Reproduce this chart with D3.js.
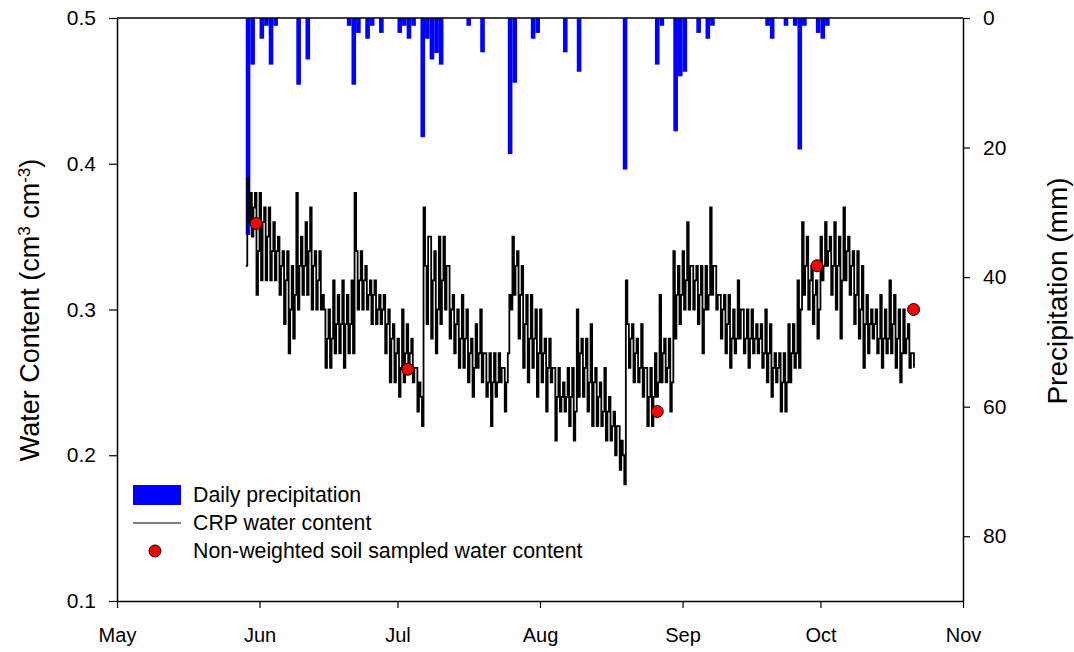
<!DOCTYPE html>
<html>
<head>
<meta charset="utf-8">
<script src="https://cdn.jsdelivr.net/npm/d3@7"></script>
<style>
  body { margin: 0; background: #fff; }
  svg { display: block; }
  text { font-family: "Liberation Sans", Arial, sans-serif; fill: #000; }
</style>
</head>
<body>
<svg id="chart" width="1074" height="652"></svg>
<script>
// Daily precipitation (mm), plotted downward from the top on the right axis
const precipDates = [
  "2013-05-29", "2013-05-30", "2013-06-01", "2013-06-02", "2013-06-03", "2013-06-04",
  "2013-06-09", "2013-06-11", "2013-06-20", "2013-06-21", "2013-06-22", "2013-06-24",
  "2013-06-25", "2013-06-27", "2013-07-01", "2013-07-02", "2013-07-03", "2013-07-04",
  "2013-07-06", "2013-07-07", "2013-07-08", "2013-07-09", "2013-07-10", "2013-07-16",
  "2013-07-19", "2013-07-25", "2013-07-26", "2013-07-30", "2013-07-31", "2013-08-06",
  "2013-08-09", "2013-08-19", "2013-08-26", "2013-08-27", "2013-08-30", "2013-08-31",
  "2013-09-01", "2013-09-04", "2013-09-06", "2013-09-07", "2013-09-19", "2013-09-20",
  "2013-09-23", "2013-09-25", "2013-09-26", "2013-09-27", "2013-09-30", "2013-10-01",
  "2013-10-02"
];
const precipMm = [
  33.5, 7.2, 3.2, 1.2, 7.2, 1.2,
  10.3, 6.4, 1.2, 10.3, 2.3, 3.2,
  1.2, 2.3, 2.3, 1.2, 3.2, 1.2,
  18.4, 3.2, 6.4, 5.4, 7.2, 1.2,
  5.3, 21.0, 10.0, 3.2, 2.3, 5.3,
  8.3, 23.4, 7.2, 1.2, 17.5, 9.0,
  8.3, 2.3, 3.2, 1.2, 1.2, 3.2,
  1.2, 1.2, 20.3, 1.2, 2.3, 3.2,
  1.2
];

// CRP water content, every 8 hours from the start, in hundredths of cm3 cm-3
const crpStart = "2013-05-29T00:00";
const crpStepHours = 8;
const crpWater = [
  33,39,36, 38,35,37, 38,31,34, 38,32,36, 37,32,35, 37,32,34, 36,32,34, 35,31,33,
  34,29,32, 34,27,30, 33,28,31, 38,30,33, 35,31,33, 36,31,34, 37,30,33, 34,30,32,
  34,30,31, 30,26,28, 30,26,28, 32,27,29, 31,27,29, 32,26,29, 31,27,29, 32,27,38,
  34,30,32, 34,30,32, 33,30,31, 32,29,31, 32,29,30, 31,29,30, 31,27,29, 30,25,28,
  29,25,27, 28,24,26, 30,25,27, 29,26,27, 28,25,26, 26,23,25, 24,22,37, 33,29,35,
  35,28,32, 34,27,30, 35,29,32, 35,30,33, 33,28,30, 31,27,29, 30,26,28, 31,26,28,
  30,25,27, 28,24,26, 29,26,27, 30,25,27, 27,24,25, 27,22,25, 27,24,25, 27,25,26,
  26,23,25, 27,31,30, 35,31,33, 34,28,31, 33,26,29, 31,25,28, 31,26,28, 30,24,27,
  30,25,27, 28,23,26, 28,25,26, 26,21,24, 26,23,24, 25,23,24, 26,22,24, 26,21,23,
  30,24,27, 28,24,26, 28,23,25, 29,22,25, 26,22,24, 25,22,23, 26,21,23, 24,21,22,
  23,20,22, 22,19,21, 20,18,32, 29,26,28, 29,25,27, 28,25,26, 29,24,26, 26,22,24,
  26,22,24, 27,24,25, 31,25,27, 28,25,26, 28,23,25, 34,28,31, 33,29,31, 34,30,32,
  36,30,33, 33,30,32, 33,29,31, 33,27,30, 33,30,31, 37,31,33, 33,30,31, 31,28,30,
  31,27,29, 31,26,28, 30,27,28, 32,28,30, 30,27,28, 30,26,28, 30,27,28, 29,27,28,
  29,26,27, 30,25,27, 29,24,26, 27,25,26, 27,23,25, 27,23,25, 29,25,27, 29,26,27,
  32,26,30, 36,31,33, 35,30,32, 33,29,31, 32,28,30, 35,32,33, 36,33,34, 35,31,33,
  36,30,33, 35,28,32, 37,32,34, 35,31,33, 34,29,31, 34,28,30, 33,26,29, 31,27,29,
  30,28,29, 30,27,28, 31,26,28, 30,27,28, 32,27,29, 31,26,28, 30,25,27, 30,27,28,
  29,26,27, 27,26
];

// Soil sampled water content (non-weighted)
const sampleDates = ["2013-05-31T06:00", "2013-07-03T06:00", "2013-08-26T12:00", "2013-09-30T06:00", "2013-10-21T06:00"];
const sampleWater = [0.359, 0.259, 0.230, 0.330, 0.300];

const waterTicks = [0.1, 0.2, 0.3, 0.4, 0.5];
const precipTicks = [0, 20, 40, 60, 80];

const W = 1074, H = 652;
const margin = { top: 18, right: 111, bottom: 51, left: 117 };
const parseDay = d3.utcParse("%Y-%m-%d");
const parseTime = d3.utcParse("%Y-%m-%dT%H:%M");

const svg = d3.select("#chart");

const x = d3.scaleUtc()
  .domain([parseDay("2013-05-01"), parseDay("2013-11-01")])
  .range([margin.left, W - margin.right]);
const y = d3.scaleLinear().domain([0.1, 0.5]).range([H - margin.bottom, margin.top]);
const yP = d3.scaleLinear().domain([0, 90]).range([margin.top, H - margin.bottom]);

// precipitation bars
const precip = precipDates.map((d, i) => ({ date: parseDay(d), mm: precipMm[i] }));
svg.append("g")
  .selectAll("rect")
  .data(precip)
  .join("rect")
  .attr("x", d => x(d.date))
  .attr("width", d => x(d3.utcDay.offset(d.date, 1)) - x(d.date))
  .attr("y", yP(0))
  .attr("height", d => yP(d.mm) - yP(0))
  .attr("fill", "#0000ff");

// CRP line - stepped, the sensor reports in 0.01 increments
const t0 = parseTime(crpStart);
const crp = crpWater.map((v, i) => ({ date: d3.utcHour.offset(t0, i * crpStepHours), value: v / 100 }));
const line = d3.line()
  .x(d => x(d.date))
  .y(d => y(d.value))
  .curve(d3.curveStepAfter);
svg.append("path")
  .datum(crp)
  .attr("d", line)
  .attr("fill", "none")
  .attr("stroke", "#000")
  .attr("stroke-width", 1.8);

// sampled points
const samples = sampleDates.map((d, i) => ({ date: parseTime(d), value: sampleWater[i] }));
svg.append("g")
  .selectAll("circle")
  .data(samples)
  .join("circle")
  .attr("cx", d => x(d.date))
  .attr("cy", d => y(d.value))
  .attr("r", 6)
  .attr("fill", "#ff0000")
  .attr("stroke", "#000")
  .attr("stroke-width", 1);

// axes
const leftAxis = svg.append("g")
  .attr("transform", `translate(${margin.left},0)`)
  .call(d3.axisLeft(y).tickValues(waterTicks).tickFormat(d3.format(".1f")).tickSize(8).tickSizeOuter(0).tickPadding(13));
const rightAxis = svg.append("g")
  .attr("transform", `translate(${W - margin.right},0)`)
  .call(d3.axisRight(yP).tickValues(precipTicks).tickSize(7).tickSizeOuter(0).tickPadding(13));
const bottomAxis = svg.append("g")
  .attr("transform", `translate(0,${H - margin.bottom})`)
  .call(d3.axisBottom(x).ticks(d3.utcMonth.every(1)).tickFormat(d3.utcFormat("%b")).tickSize(7).tickSizeOuter(0).tickPadding(20));

[leftAxis, rightAxis, bottomAxis].forEach(g => {
  g.selectAll("path.domain").attr("stroke", "#000").attr("stroke-width", 1.5);
  g.selectAll(".tick line").attr("stroke", "#000").attr("stroke-width", 1.2);
  g.selectAll(".tick text").attr("font-size", 21).attr("font-family", null);
});
bottomAxis.selectAll(".tick text").attr("font-size", 20);

// top frame line
svg.append("line")
  .attr("x1", margin.left).attr("x2", W - margin.right)
  .attr("y1", margin.top).attr("y2", margin.top)
  .attr("stroke", "#000").attr("stroke-width", 1.5);

// axis titles
const leftTitle = svg.append("text")
  .attr("transform", "translate(39,310) rotate(-90)")
  .attr("text-anchor", "middle")
  .attr("font-size", 27);
leftTitle.append("tspan").text("Water Content (cm");
leftTitle.append("tspan").attr("baseline-shift", "super").attr("font-size", 17).text("3");
leftTitle.append("tspan").text(" cm");
leftTitle.append("tspan").attr("baseline-shift", "super").attr("font-size", 17).text("-3");
leftTitle.append("tspan").text(")");

svg.append("text")
  .attr("transform", "translate(1057,291) rotate(-90)")
  .attr("text-anchor", "middle")
  .attr("dy", "0.35em")
  .attr("font-size", 28)
  .text("Precipitation (mm)");

// legend
const legend = svg.append("g").attr("font-size", 21.3);
legend.append("rect").attr("x", 133).attr("y", 485).attr("width", 48).attr("height", 20).attr("fill", "#0000ff");
legend.append("line").attr("x1", 133).attr("x2", 181).attr("y1", 523).attr("y2", 523).attr("stroke", "#000").attr("stroke-width", 1.2);
legend.append("circle").attr("cx", 155).attr("cy", 551).attr("r", 6).attr("fill", "#ff0000").attr("stroke", "#000");
const legendLabels = ["Daily precipitation", "CRP water content", "Non-weighted soil sampled water content"];
legend.selectAll("text.lab")
  .data(legendLabels)
  .join("text")
  .attr("class", "lab")
  .attr("x", 193)
  .attr("y", (d, i) => 495 + i * 28)
  .attr("dy", "0.35em")
  .text(d => d);
</script>
</body>
</html>
